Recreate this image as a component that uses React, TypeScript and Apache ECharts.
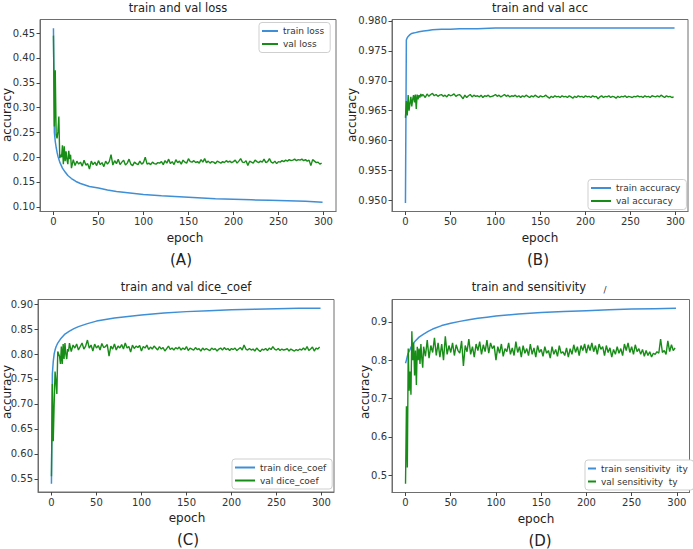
import React, { useEffect, useRef } from "react";
import * as echarts from "echarts";

// ---------- data ----------
const xTicks = [0, 50, 100, 150, 200, 250, 300];

const trainLossEpochs = [0, 1, 2, 3, 4, 5, 7, 10, 13, 16, 20, 25, 30, 40, 50, 60, 70, 80, 90, 100, 120, 140, 160, 180, 200, 220, 240, 260, 280, 299];
const trainLoss = [0.46, 0.25, 0.232, 0.22, 0.21, 0.202, 0.19, 0.178, 0.17, 0.163, 0.157, 0.151, 0.147, 0.141, 0.138, 0.134, 0.131, 0.129, 0.127, 0.125, 0.122, 0.12, 0.118, 0.116, 0.115, 0.114, 0.113, 0.112, 0.111, 0.109];

const trainAccEpochs = [0, 1, 2, 3, 5, 7, 10, 15, 20, 25, 30, 40, 50, 60, 70, 80, 100, 150, 200, 250, 299];
const trainAcc = [0.9496, 0.9768, 0.9772, 0.9774, 0.9777, 0.9779, 0.978, 0.9782, 0.9783, 0.9784, 0.9785, 0.9786, 0.9786, 0.9787, 0.9787, 0.9787, 0.9788, 0.9788, 0.9788, 0.9788, 0.9788];

const trainDiceEpochs = [0, 1, 2, 3, 4, 5, 7, 10, 15, 20, 25, 30, 40, 50, 60, 70, 80, 100, 125, 150, 175, 200, 225, 250, 275, 299];
const trainDice = [0.54, 0.76, 0.785, 0.8, 0.808, 0.814, 0.822, 0.83, 0.84, 0.846, 0.851, 0.855, 0.861, 0.866, 0.869, 0.872, 0.874, 0.878, 0.882, 0.885, 0.887, 0.889, 0.89, 0.891, 0.892, 0.892];

const trainSensEpochs = [0, 1, 2, 3, 5, 7, 10, 15, 20, 25, 30, 40, 50, 60, 70, 80, 90, 100, 125, 150, 175, 200, 225, 250, 275, 299];
const trainSens = [0.792, 0.8, 0.81, 0.818, 0.828, 0.838, 0.848, 0.86, 0.868, 0.875, 0.881, 0.89, 0.896, 0.901, 0.905, 0.909, 0.912, 0.915, 0.92, 0.924, 0.927, 0.929, 0.931, 0.933, 0.934, 0.935];

// validation epochs: every epoch 0-19, then every second epoch 20-298
const valEpochs = [
  ...Array.from({ length: 20 }, (_, i) => i),
  ...Array.from({ length: 140 }, (_, i) => 20 + 2 * i),
];

const valLoss = [
  0.445, 0.262, 0.375, 0.245, 0.238, 0.252, 0.282, 0.198, 0.205, 0.2, 0.224, 0.186, 0.222, 0.192, 0.212, 0.195, 0.186, 0.213, 0.196, 0.205,
  0.178, 0.195, 0.183, 0.192, 0.186, 0.19, 0.182, 0.194, 0.184, 0.187,
  0.176, 0.192, 0.185, 0.19, 0.183, 0.193, 0.185, 0.189, 0.181, 0.192,
  0.186, 0.191, 0.205, 0.184, 0.193, 0.187, 0.196, 0.185, 0.19, 0.194,
  0.184, 0.188, 0.196, 0.186, 0.183, 0.19, 0.187, 0.185, 0.192, 0.186,
  0.189, 0.2, 0.186, 0.188, 0.185, 0.19, 0.187, 0.186, 0.189, 0.188,
  0.191, 0.185, 0.193, 0.188, 0.196, 0.187, 0.191, 0.185, 0.195, 0.189,
  0.192, 0.186, 0.194, 0.19, 0.188, 0.197, 0.191, 0.19, 0.193, 0.189,
  0.191, 0.188, 0.195, 0.19, 0.197, 0.189, 0.192, 0.188, 0.191, 0.19,
  0.187, 0.192, 0.19, 0.188, 0.191, 0.189, 0.193, 0.19, 0.192, 0.189,
  0.191, 0.194, 0.188, 0.192, 0.197, 0.19, 0.189, 0.193, 0.183, 0.192,
  0.19, 0.188, 0.194, 0.191, 0.189, 0.192, 0.19, 0.196, 0.189, 0.191,
  0.197, 0.19, 0.188, 0.192, 0.187, 0.191, 0.19, 0.193, 0.191, 0.194,
  0.192, 0.195, 0.193, 0.194, 0.196, 0.193, 0.195, 0.194, 0.196, 0.193,
  0.195, 0.192, 0.194, 0.183, 0.195, 0.192, 0.189, 0.19, 0.186, 0.188,
];

const valAcc = [
  0.9638, 0.9666, 0.9642, 0.9676, 0.965, 0.9662, 0.9673, 0.9657, 0.9669, 0.9676, 0.9664, 0.9677, 0.9653, 0.9677, 0.9669, 0.9676, 0.9672, 0.9678, 0.9674, 0.9677,
  0.9676, 0.9672, 0.9678, 0.9674, 0.9677, 0.9679, 0.9675, 0.9677, 0.9674, 0.9676,
  0.9677, 0.9674, 0.9676, 0.9673, 0.9677, 0.9675, 0.9676, 0.9678, 0.9674, 0.9676,
  0.9677, 0.9674, 0.967, 0.9676, 0.9672, 0.9675, 0.9677, 0.9673, 0.9676, 0.9674,
  0.9675, 0.9673, 0.9676, 0.9672, 0.9675, 0.9674, 0.9676, 0.9673, 0.9674, 0.9675,
  0.9677, 0.9674, 0.9676, 0.9673, 0.9675, 0.9677, 0.9674, 0.9676, 0.9673, 0.9675,
  0.9674, 0.9676, 0.9673, 0.9675, 0.9672, 0.9675, 0.9673, 0.9676, 0.9674, 0.9672,
  0.9675, 0.9673, 0.9676, 0.9674, 0.9672, 0.9675, 0.9673, 0.9674, 0.9676, 0.9673,
  0.9671, 0.9674, 0.9672, 0.9675, 0.9673, 0.9674, 0.9672, 0.9675, 0.9673, 0.9674,
  0.9672, 0.9675, 0.9673, 0.9671, 0.9674, 0.9672, 0.9675, 0.9673, 0.9674, 0.9672,
  0.9675, 0.9673, 0.9674, 0.9672, 0.9675, 0.9673, 0.9674, 0.967, 0.9673, 0.9675,
  0.9672, 0.9674, 0.9673, 0.9675, 0.9672, 0.9674, 0.9673, 0.9671, 0.9674, 0.9672,
  0.9674, 0.9673, 0.9675, 0.9672, 0.9674, 0.9673, 0.9672, 0.9674, 0.9673, 0.9675,
  0.9673, 0.9674, 0.9672, 0.9675, 0.9673, 0.9674, 0.9672, 0.9675, 0.9674, 0.9673,
  0.9675, 0.9673, 0.9676, 0.9674, 0.9672, 0.9675, 0.9673, 0.9674, 0.9672, 0.9673,
];

const valDice = [
  0.555, 0.74, 0.625, 0.7, 0.765, 0.745, 0.72, 0.805, 0.8, 0.795, 0.78, 0.815, 0.78, 0.82, 0.79, 0.822, 0.8, 0.79, 0.81, 0.805,
  0.822, 0.805, 0.818, 0.812, 0.82, 0.808, 0.815, 0.822, 0.81, 0.816,
  0.828, 0.812, 0.818, 0.806, 0.82, 0.812, 0.817, 0.808, 0.821, 0.813,
  0.815, 0.819, 0.796, 0.816, 0.81, 0.82, 0.808, 0.816, 0.812, 0.819,
  0.81, 0.822, 0.812, 0.815, 0.804, 0.818, 0.811, 0.816, 0.813, 0.817,
  0.806, 0.815, 0.812, 0.818, 0.809, 0.814, 0.81, 0.816, 0.812, 0.808,
  0.815, 0.81, 0.813, 0.806, 0.811, 0.816, 0.809, 0.812, 0.808, 0.813,
  0.81, 0.814, 0.808, 0.812, 0.809, 0.815, 0.807, 0.812, 0.81, 0.808,
  0.813, 0.809, 0.811, 0.806, 0.812, 0.808, 0.811, 0.809, 0.807, 0.812,
  0.809, 0.811, 0.806, 0.81, 0.812, 0.808, 0.813, 0.809, 0.811, 0.807,
  0.811, 0.809, 0.812, 0.807, 0.81, 0.813, 0.808, 0.818, 0.81, 0.808,
  0.811, 0.808, 0.81, 0.806, 0.812, 0.808, 0.805, 0.81, 0.808, 0.811,
  0.807, 0.812, 0.809, 0.815, 0.81, 0.808, 0.811, 0.807, 0.81, 0.808,
  0.809, 0.811, 0.806, 0.81, 0.808, 0.806, 0.809, 0.807, 0.81, 0.808,
  0.812, 0.808, 0.815, 0.807, 0.81, 0.814, 0.806, 0.812, 0.81, 0.814,
];

const valSens = [
  0.478, 0.68, 0.52, 0.83, 0.72, 0.77, 0.71, 0.875, 0.8, 0.845, 0.76, 0.825, 0.735, 0.835, 0.8, 0.83, 0.79, 0.842, 0.805, 0.78,
  0.835, 0.81, 0.852, 0.805, 0.838, 0.82, 0.858, 0.812, 0.845, 0.808,
  0.842, 0.8, 0.862, 0.815, 0.838, 0.82, 0.845, 0.812, 0.84, 0.825,
  0.818, 0.85, 0.785, 0.838, 0.822, 0.855, 0.815, 0.835, 0.808, 0.842,
  0.825, 0.848, 0.815, 0.84, 0.822, 0.852, 0.818, 0.845, 0.83, 0.838,
  0.8, 0.835, 0.818, 0.842, 0.81, 0.83, 0.822, 0.845, 0.815, 0.832,
  0.812, 0.848, 0.82, 0.835, 0.808, 0.838, 0.818, 0.83, 0.812, 0.842,
  0.815, 0.832, 0.808, 0.838, 0.82, 0.828, 0.81, 0.835, 0.818, 0.825,
  0.805, 0.835, 0.815, 0.828, 0.81, 0.838, 0.818, 0.822, 0.812, 0.832,
  0.808, 0.83, 0.815, 0.84, 0.82, 0.835, 0.812, 0.838, 0.825, 0.842,
  0.818, 0.84, 0.825, 0.845, 0.822, 0.838, 0.815, 0.842, 0.828, 0.835,
  0.812, 0.838, 0.82, 0.832, 0.808, 0.828, 0.815, 0.835, 0.818, 0.83,
  0.812, 0.842, 0.825, 0.845, 0.82, 0.835, 0.815, 0.84, 0.822, 0.83,
  0.815, 0.828, 0.81, 0.825, 0.812, 0.822, 0.808, 0.818, 0.815, 0.822,
  0.818, 0.855, 0.82, 0.825, 0.815, 0.85, 0.822, 0.84, 0.825, 0.832,
];

const yTicksA = [0.1, 0.15, 0.2, 0.25, 0.3, 0.35, 0.4, 0.45];
const yTicksB = [0.95, 0.955, 0.96, 0.965, 0.97, 0.975, 0.98];
const yTicksC = [0.55, 0.6, 0.65, 0.7, 0.75, 0.8, 0.85, 0.9];
const yTicksD = [0.5, 0.6, 0.7, 0.8, 0.9];

const titles = ["train and val loss", "train and val acc", "train and val dice_coef", "train and sensitivity"];
const panelLetters = ["(A)", "(B)", "(C)", "(D)"];
const trainNames = ["train loss", "train accuracy", "train dice_coef", "train sensitivity  ity"];
const valNames = ["val loss", "val accuracy", "val dice_coef", "val sensitivity  ty"];

// ---------- styling / layout ----------
const BLUE = "#3f8fd6";
const GREEN = "#178c17";
const FONT = "DejaVu Sans";
const TXT = "#333";
const SPINE = "#6e6e6e";

const panels = [
  {
    grid: { left: 40, top: 19.5, width: 296, height: 192 },
    y: [0.0905, 0.4775], yTicks: yTicksA, dec: 2,
    train: [trainLossEpochs, trainLoss], val: valLoss,
    legend: { left: 259, top: 22.5, itemWidth: 16 },
    title: [178, 8], ylab: [7, 115], xlab: [185, 238], letter: [181, 260],
  },
  {
    grid: { left: 392, top: 19.5, width: 296, height: 192 },
    y: [0.94817, 0.98023], yTicks: yTicksB, dec: 3,
    train: [trainAccEpochs, trainAcc], val: valAcc,
    legend: { left: 588, top: 179.5, itemWidth: 20 },
    title: [540, 8], ylab: [352, 115], xlab: [540, 238], letter: [538, 260],
  },
  {
    grid: { left: 38, top: 299.5, width: 296, height: 192.5 },
    y: [0.5235, 0.9093], yTicks: yTicksC, dec: 2,
    train: [trainDiceEpochs, trainDice], val: valDice,
    legend: { left: 232, top: 459, itemWidth: 20 },
    title: [186, 287], ylab: [7, 392], xlab: [187, 518], letter: [188, 540],
  },
  {
    grid: { left: 392, top: 299.5, width: 297.5, height: 193 },
    y: [0.455, 0.958], yTicks: yTicksD, dec: 1,
    train: [trainSensEpochs, trainSens], val: valSens,
    legend: { left: 585, top: 460, itemWidth: 8 },
    title: [529, 287], ylab: [365, 392], xlab: [536, 519], letter: [540, 541],
  },
];

function buildOption() {
  const grid = panels.map((p) => ({
    ...p.grid,
    show: true,
    borderColor: SPINE,
    borderWidth: 1,
    backgroundColor: "transparent",
    containLabel: false,
  }));
  const xAxis = panels.map((p, i) => ({
    type: "value",
    gridIndex: i,
    min: -14.95,
    max: 313.95,
    splitLine: { show: false },
    axisLine: { show: true, onZero: false, lineStyle: { color: SPINE, width: 1 } },
    axisTick: { show: true, length: 3.5, lineStyle: { color: "#444" }, customValues: xTicks },
    axisLabel: { customValues: xTicks, margin: 5, fontSize: 10, color: TXT, fontFamily: FONT },
  }));
  const yAxis = panels.map((p, i) => ({
    type: "value",
    gridIndex: i,
    min: p.y[0],
    max: p.y[1],
    splitLine: { show: false },
    axisLine: { show: true, onZero: false, lineStyle: { color: SPINE, width: 1 } },
    axisTick: { show: true, length: 3.5, lineStyle: { color: "#444" }, customValues: p.yTicks },
    axisLabel: {
      customValues: p.yTicks,
      margin: 5,
      fontSize: 10,
      color: TXT,
      fontFamily: FONT,
      formatter: (v: number) => v.toFixed(p.dec),
    },
  }));
  const series: any[] = [];
  panels.forEach((p, i) => {
    series.push({
      type: "line",
      name: trainNames[i],
      xAxisIndex: i,
      yAxisIndex: i,
      color: BLUE,
      symbol: "none",
      showSymbol: false,
      lineStyle: { width: 1.5, color: BLUE },
      data: p.train[0].map((e, k) => [e, p.train[1][k]]),
    });
    series.push({
      type: "line",
      name: valNames[i],
      xAxisIndex: i,
      yAxisIndex: i,
      color: GREEN,
      symbol: "none",
      showSymbol: false,
      lineStyle: { width: 1.4, color: GREEN },
      data: valEpochs.map((e, k) => [e, p.val[k]]),
    });
  });
  const legend = panels.map((p, i) => ({
    data: [trainNames[i], valNames[i]],
    orient: "vertical",
    left: p.legend.left,
    top: p.legend.top,
    itemWidth: p.legend.itemWidth,
    itemHeight: 2,
    icon: "rect",
    itemGap: 2,
    padding: [3, 6, 3, 3],
    borderColor: "#cfcfcf",
    borderWidth: 1,
    borderRadius: 3,
    backgroundColor: "#fff",
    selectedMode: false,
    textStyle: { fontSize: 9, color: TXT, fontFamily: FONT, lineHeight: 11 },
  }));
  const graphic: any[] = [];
  panels.forEach((p, i) => {
    graphic.push({
      type: "text", x: p.title[0], y: p.title[1],
      style: { text: titles[i], fontSize: 11.5, fill: "#222", fontFamily: FONT, textAlign: "center", textVerticalAlign: "middle" },
    });
    graphic.push({
      type: "text", x: p.xlab[0], y: p.xlab[1],
      style: { text: "epoch", fontSize: 12, fill: "#222", fontFamily: FONT, textAlign: "center", textVerticalAlign: "middle" },
    });
    graphic.push({
      type: "text", x: p.letter[0], y: p.letter[1],
      style: { text: panelLetters[i], fontSize: 15, fill: "#222", fontFamily: FONT, textAlign: "center", textVerticalAlign: "middle" },
    });
    graphic.push({
      type: "text", x: p.ylab[0], y: p.ylab[1], rotation: Math.PI / 2,
      style: { text: "accuracy", fontSize: 12, fill: "#222", fontFamily: FONT, textAlign: "center", textVerticalAlign: "middle" },
    });
  });
  graphic.push({
    type: "text", x: 605, y: 290,
    style: { text: "/", fontSize: 9, fill: "#333", fontFamily: FONT, textAlign: "center", textVerticalAlign: "middle" },
  });
  return { animation: false, backgroundColor: "#fff", grid, xAxis, yAxis, series, legend, graphic };
}

export default function App() {
  const ref = useRef<HTMLDivElement>(null);
  useEffect(() => {
    if (!ref.current) return;
    const chart = echarts.init(ref.current, undefined, { renderer: "svg" });
    chart.setOption(buildOption() as any);
    return () => chart.dispose();
  }, []);
  return <div ref={ref} style={{ position: "absolute", left: 0, top: 0, width: 693, height: 549 }} />;
}
